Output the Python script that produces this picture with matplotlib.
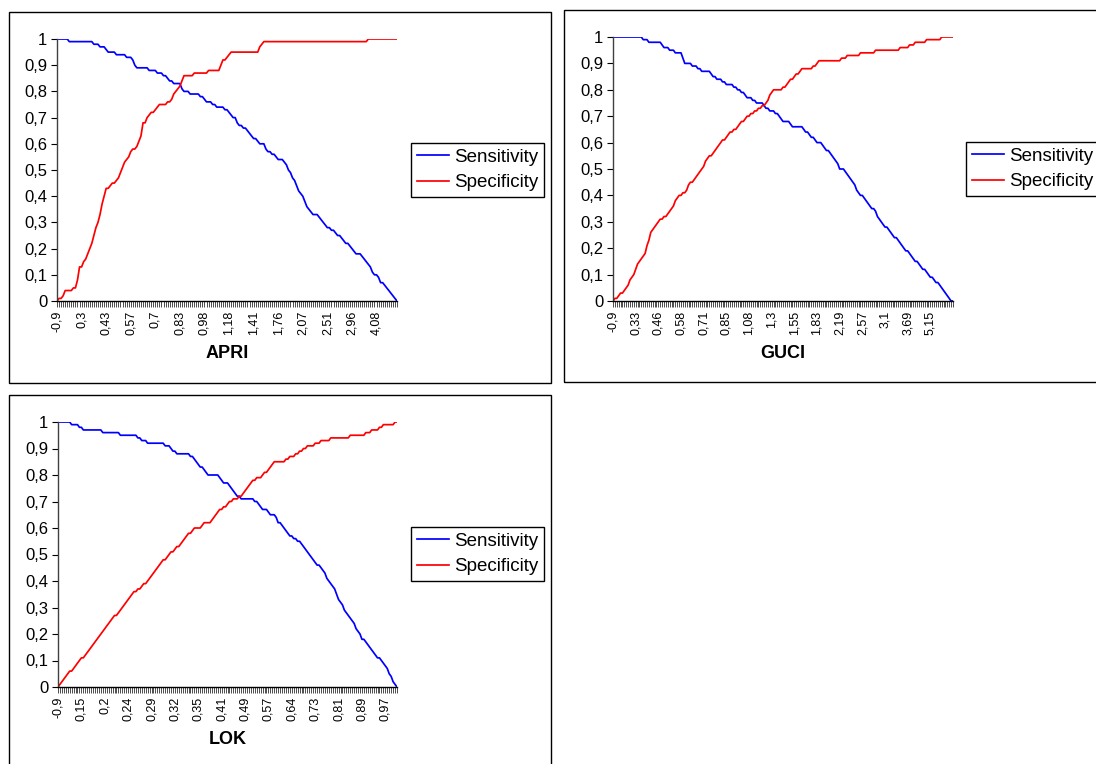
import matplotlib
matplotlib.use("Agg")
import matplotlib.pyplot as plt
from matplotlib.patches import Rectangle
from matplotlib.ticker import FixedLocator, FuncFormatter

plt.rcParams["font.family"] = ["Liberation Sans", "DejaVu Sans"]

# APRI : sensitivity / specificity per cut-off (167 cut-offs)
apri_labels = ["-0,9", "0,3", "0,43", "0,57", "0,7", "0,83", "0,98", "1,18",
               "1,41", "1,76", "2,07", "2,51", "2,96", "4,08"]
apri_sens = [
    1.00, 1.00, 1.00, 1.00, 1.00, 1.00, 0.99, 0.99, 0.99, 0.99, 0.99, 0.99,
    0.99, 0.99, 0.99, 0.99, 0.99, 0.99, 0.98, 0.98, 0.98, 0.97, 0.97, 0.97,
    0.96, 0.95, 0.95, 0.95, 0.95, 0.94, 0.94, 0.94, 0.94, 0.94, 0.93, 0.93,
    0.93, 0.92, 0.90, 0.89, 0.89, 0.89, 0.89, 0.89, 0.89, 0.88, 0.88, 0.88,
    0.88, 0.87, 0.87, 0.87, 0.86, 0.86, 0.85, 0.84, 0.84, 0.83, 0.83, 0.83,
    0.83, 0.81, 0.80, 0.80, 0.80, 0.79, 0.79, 0.79, 0.79, 0.79, 0.78, 0.78,
    0.77, 0.76, 0.76, 0.76, 0.75, 0.75, 0.74, 0.74, 0.74, 0.74, 0.73, 0.73,
    0.72, 0.71, 0.70, 0.70, 0.68, 0.67, 0.67, 0.66, 0.66, 0.65, 0.64, 0.63,
    0.62, 0.62, 0.61, 0.60, 0.60, 0.60, 0.58, 0.57, 0.57, 0.56, 0.56, 0.55,
    0.54, 0.54, 0.54, 0.53, 0.52, 0.50, 0.49, 0.47, 0.46, 0.44, 0.42, 0.41,
    0.40, 0.38, 0.36, 0.35, 0.34, 0.33, 0.33, 0.33, 0.32, 0.31, 0.30, 0.29,
    0.28, 0.28, 0.27, 0.27, 0.26, 0.25, 0.25, 0.24, 0.23, 0.22, 0.22, 0.21,
    0.20, 0.19, 0.18, 0.18, 0.18, 0.17, 0.16, 0.15, 0.14, 0.13, 0.11, 0.10,
    0.10, 0.09, 0.07, 0.07, 0.06, 0.05, 0.04, 0.03, 0.02, 0.01, 0.00]
apri_spec = [
    0.00, 0.01, 0.01, 0.02, 0.04, 0.04, 0.04, 0.04, 0.05, 0.05, 0.08, 0.13,
    0.13, 0.15, 0.16, 0.18, 0.20, 0.22, 0.25, 0.28, 0.30, 0.33, 0.37, 0.40,
    0.43, 0.43, 0.44, 0.45, 0.45, 0.46, 0.47, 0.49, 0.51, 0.53, 0.54, 0.55,
    0.57, 0.58, 0.58, 0.59, 0.61, 0.63, 0.68, 0.68, 0.70, 0.71, 0.72, 0.72,
    0.73, 0.74, 0.75, 0.75, 0.75, 0.75, 0.76, 0.76, 0.77, 0.79, 0.80, 0.81,
    0.82, 0.84, 0.86, 0.86, 0.86, 0.86, 0.86, 0.87, 0.87, 0.87, 0.87, 0.87,
    0.87, 0.87, 0.88, 0.88, 0.88, 0.88, 0.88, 0.88, 0.90, 0.92, 0.92, 0.93,
    0.94, 0.95, 0.95, 0.95, 0.95, 0.95, 0.95, 0.95, 0.95, 0.95, 0.95, 0.95,
    0.95, 0.95, 0.95, 0.97, 0.98, 0.99, 0.99, 0.99, 0.99, 0.99, 0.99, 0.99,
    0.99, 0.99, 0.99, 0.99, 0.99, 0.99, 0.99, 0.99, 0.99, 0.99, 0.99, 0.99,
    0.99, 0.99, 0.99, 0.99, 0.99, 0.99, 0.99, 0.99, 0.99, 0.99, 0.99, 0.99,
    0.99, 0.99, 0.99, 0.99, 0.99, 0.99, 0.99, 0.99, 0.99, 0.99, 0.99, 0.99,
    0.99, 0.99, 0.99, 0.99, 0.99, 0.99, 0.99, 0.99, 1.00, 1.00, 1.00, 1.00,
    1.00, 1.00, 1.00, 1.00, 1.00, 1.00, 1.00, 1.00, 1.00, 1.00, 1.00]

# GUCI (181 cut-offs)
guci_labels = ["-0,9", "0,33", "0,46", "0,58", "0,71", "0,85", "1,08", "1,3",
               "1,55", "1,83", "2,19", "2,57", "3,1", "3,69", "5,15"]
guci_sens = [
    1.00, 1.00, 1.00, 1.00, 1.00, 1.00, 1.00, 1.00, 1.00, 1.00, 1.00, 1.00,
    1.00, 1.00, 1.00, 1.00, 0.99, 0.99, 0.99, 0.98, 0.98, 0.98, 0.98, 0.98,
    0.98, 0.98, 0.97, 0.96, 0.96, 0.96, 0.95, 0.95, 0.95, 0.94, 0.94, 0.94,
    0.94, 0.92, 0.90, 0.90, 0.90, 0.90, 0.89, 0.89, 0.89, 0.88, 0.88, 0.87,
    0.87, 0.87, 0.87, 0.87, 0.86, 0.85, 0.85, 0.84, 0.84, 0.84, 0.83, 0.83,
    0.82, 0.82, 0.82, 0.82, 0.81, 0.81, 0.80, 0.80, 0.79, 0.79, 0.78, 0.77,
    0.77, 0.77, 0.76, 0.76, 0.75, 0.75, 0.75, 0.75, 0.74, 0.73, 0.73, 0.72,
    0.72, 0.72, 0.71, 0.71, 0.70, 0.69, 0.68, 0.68, 0.68, 0.68, 0.67, 0.66,
    0.66, 0.66, 0.66, 0.66, 0.66, 0.65, 0.64, 0.64, 0.63, 0.62, 0.62, 0.61,
    0.60, 0.60, 0.60, 0.59, 0.58, 0.57, 0.57, 0.56, 0.55, 0.54, 0.53, 0.52,
    0.50, 0.50, 0.50, 0.49, 0.48, 0.47, 0.46, 0.45, 0.44, 0.42, 0.41, 0.40,
    0.40, 0.39, 0.38, 0.37, 0.36, 0.35, 0.35, 0.34, 0.32, 0.31, 0.30, 0.29,
    0.28, 0.28, 0.27, 0.26, 0.25, 0.24, 0.24, 0.23, 0.22, 0.21, 0.20, 0.19,
    0.19, 0.18, 0.17, 0.16, 0.15, 0.15, 0.14, 0.13, 0.12, 0.12, 0.11, 0.10,
    0.09, 0.09, 0.08, 0.07, 0.07, 0.06, 0.05, 0.04, 0.03, 0.02, 0.01, 0.00,
    0.00]
guci_spec = [
    0.00, 0.01, 0.01, 0.02, 0.03, 0.03, 0.04, 0.05, 0.06, 0.08, 0.09, 0.10,
    0.12, 0.14, 0.15, 0.16, 0.17, 0.18, 0.21, 0.23, 0.26, 0.27, 0.28, 0.29,
    0.30, 0.31, 0.31, 0.32, 0.32, 0.33, 0.34, 0.35, 0.36, 0.38, 0.39, 0.40,
    0.40, 0.41, 0.41, 0.42, 0.44, 0.45, 0.45, 0.46, 0.47, 0.48, 0.49, 0.50,
    0.51, 0.53, 0.54, 0.55, 0.55, 0.56, 0.57, 0.58, 0.59, 0.60, 0.61, 0.61,
    0.62, 0.63, 0.64, 0.64, 0.65, 0.65, 0.66, 0.67, 0.68, 0.68, 0.69, 0.70,
    0.70, 0.71, 0.71, 0.72, 0.72, 0.73, 0.73, 0.74, 0.74, 0.75, 0.76, 0.78,
    0.79, 0.80, 0.80, 0.80, 0.80, 0.80, 0.81, 0.81, 0.82, 0.83, 0.84, 0.84,
    0.85, 0.86, 0.86, 0.87, 0.88, 0.88, 0.88, 0.88, 0.88, 0.88, 0.89, 0.89,
    0.90, 0.91, 0.91, 0.91, 0.91, 0.91, 0.91, 0.91, 0.91, 0.91, 0.91, 0.91,
    0.91, 0.92, 0.92, 0.92, 0.93, 0.93, 0.93, 0.93, 0.93, 0.93, 0.93, 0.94,
    0.94, 0.94, 0.94, 0.94, 0.94, 0.94, 0.94, 0.95, 0.95, 0.95, 0.95, 0.95,
    0.95, 0.95, 0.95, 0.95, 0.95, 0.95, 0.95, 0.95, 0.96, 0.96, 0.96, 0.96,
    0.96, 0.97, 0.97, 0.97, 0.98, 0.98, 0.98, 0.98, 0.98, 0.98, 0.99, 0.99,
    0.99, 0.99, 0.99, 0.99, 0.99, 0.99, 1.00, 1.00, 1.00, 1.00, 1.00, 1.00,
    1.00]

# LOK (175 cut-offs)
lok_labels = ["-0,9", "0,15", "0,2", "0,24", "0,29", "0,32", "0,35", "0,41",
              "0,49", "0,57", "0,64", "0,73", "0,81", "0,89", "0,97"]
lok_sens = [
    1.00, 1.00, 1.00, 1.00, 1.00, 1.00, 1.00, 0.99, 0.99, 0.99, 0.99, 0.98,
    0.98, 0.97, 0.97, 0.97, 0.97, 0.97, 0.97, 0.97, 0.97, 0.97, 0.97, 0.96,
    0.96, 0.96, 0.96, 0.96, 0.96, 0.96, 0.96, 0.96, 0.95, 0.95, 0.95, 0.95,
    0.95, 0.95, 0.95, 0.95, 0.95, 0.94, 0.94, 0.93, 0.93, 0.93, 0.92, 0.92,
    0.92, 0.92, 0.92, 0.92, 0.92, 0.92, 0.92, 0.91, 0.91, 0.91, 0.90, 0.89,
    0.89, 0.88, 0.88, 0.88, 0.88, 0.88, 0.88, 0.88, 0.87, 0.87, 0.86, 0.85,
    0.84, 0.83, 0.83, 0.82, 0.81, 0.80, 0.80, 0.80, 0.80, 0.80, 0.80, 0.79,
    0.78, 0.77, 0.77, 0.77, 0.76, 0.75, 0.74, 0.73, 0.72, 0.72, 0.71, 0.71,
    0.71, 0.71, 0.71, 0.71, 0.71, 0.70, 0.70, 0.69, 0.68, 0.67, 0.67, 0.67,
    0.66, 0.65, 0.65, 0.65, 0.64, 0.62, 0.62, 0.61, 0.60, 0.59, 0.58, 0.57,
    0.57, 0.56, 0.56, 0.55, 0.55, 0.54, 0.53, 0.52, 0.51, 0.50, 0.49, 0.48,
    0.47, 0.46, 0.46, 0.45, 0.44, 0.43, 0.41, 0.40, 0.39, 0.38, 0.37, 0.35,
    0.33, 0.32, 0.31, 0.29, 0.28, 0.27, 0.26, 0.25, 0.24, 0.22, 0.21, 0.20,
    0.18, 0.18, 0.17, 0.16, 0.15, 0.14, 0.13, 0.12, 0.11, 0.11, 0.10, 0.09,
    0.08, 0.07, 0.05, 0.04, 0.02, 0.01, 0.00]
lok_spec = [
    0.00, 0.01, 0.02, 0.03, 0.04, 0.05, 0.06, 0.06, 0.07, 0.08, 0.09, 0.10,
    0.11, 0.11, 0.12, 0.13, 0.14, 0.15, 0.16, 0.17, 0.18, 0.19, 0.20, 0.21,
    0.22, 0.23, 0.24, 0.25, 0.26, 0.27, 0.27, 0.28, 0.29, 0.30, 0.31, 0.32,
    0.33, 0.34, 0.35, 0.36, 0.36, 0.37, 0.37, 0.38, 0.39, 0.39, 0.40, 0.41,
    0.42, 0.43, 0.44, 0.45, 0.46, 0.47, 0.48, 0.48, 0.49, 0.50, 0.51, 0.51,
    0.52, 0.53, 0.53, 0.54, 0.55, 0.56, 0.57, 0.58, 0.58, 0.59, 0.60, 0.60,
    0.60, 0.60, 0.61, 0.62, 0.62, 0.62, 0.62, 0.63, 0.64, 0.65, 0.66, 0.67,
    0.67, 0.68, 0.68, 0.69, 0.70, 0.70, 0.71, 0.71, 0.71, 0.72, 0.72, 0.73,
    0.74, 0.75, 0.76, 0.77, 0.78, 0.78, 0.79, 0.79, 0.79, 0.80, 0.81, 0.81,
    0.82, 0.83, 0.84, 0.85, 0.85, 0.85, 0.85, 0.85, 0.85, 0.86, 0.86, 0.87,
    0.87, 0.87, 0.88, 0.88, 0.89, 0.89, 0.90, 0.90, 0.91, 0.91, 0.91, 0.91,
    0.92, 0.92, 0.92, 0.93, 0.93, 0.93, 0.93, 0.93, 0.94, 0.94, 0.94, 0.94,
    0.94, 0.94, 0.94, 0.94, 0.94, 0.94, 0.95, 0.95, 0.95, 0.95, 0.95, 0.95,
    0.95, 0.95, 0.96, 0.96, 0.96, 0.97, 0.97, 0.97, 0.97, 0.98, 0.98, 0.99,
    0.99, 0.99, 0.99, 0.99, 0.99, 1.00, 1.00]

LABEL_STEP = 12

fig = plt.figure(figsize=(10.96, 7.64), dpi=100)
W, H = 1096.0, 764.0

# chart frames (pixels: x0, y0 top, x1, y1 bottom)
frames = [(9, 12, 551, 383), (564, 10, 1100, 382), (9, 395, 551, 770)]
for x0, y0, x1, y1 in frames:
    fig.patches.append(Rectangle((x0 / W, 1 - y1 / H), (x1 - x0) / W, (y1 - y0) / H,
                                 transform=fig.transFigure, fill=False,
                                 edgecolor="black", linewidth=1.0))

charts = [
    ("APRI", apri_labels, apri_sens, apri_spec, (57, 39, 397, 301), (411, 143)),
    ("GUCI", guci_labels, guci_sens, guci_spec, (613, 37, 953, 301), (966, 142)),
    ("LOK", lok_labels, lok_sens, lok_spec, (58, 422, 397, 687), (411, 527)),
]


def ylab(v, pos):
    if v == 0:
        return "0"
    if abs(v - 1) < 1e-9:
        return "1"
    return ("%.1f" % v).replace(".", ",")


for name, labels, sens, spec, (px0, py0, px1, py1), (lx, ly) in charts:
    ax = fig.add_axes([px0 / W, 1 - py1 / H, (px1 - px0) / W, (py1 - py0) / H])
    n = len(sens)
    idx = list(range(n))
    ax.plot(idx, sens, color="#0000FF", lw=1.25, label="Sensitivity")
    ax.plot(idx, spec, color="#FF0000", lw=1.25, label="Specificity")
    ax.set_xlim(0, n - 1)
    ax.set_ylim(0, 1)

    for s in ("top", "right"):
        ax.spines[s].set_visible(False)
    ax.spines["left"].set_color("#404040")
    ax.spines["left"].set_linewidth(1.0)
    ax.spines["bottom"].set_color("black")
    ax.spines["bottom"].set_linewidth(1.0)

    major = list(range(0, n, LABEL_STEP))[:len(labels)]
    ax.xaxis.set_major_locator(FixedLocator(major))
    ax.xaxis.set_minor_locator(FixedLocator(idx))
    ax.set_xticklabels(labels, rotation=90, fontsize=9)
    ax.tick_params(axis="x", which="both", direction="out", length=4, width=0.6,
                   color="#303030", pad=3)
    ax.set_yticks([i / 10 for i in range(11)])
    ax.yaxis.set_major_formatter(FuncFormatter(ylab))
    ax.tick_params(axis="y", direction="out", length=4, width=0.8, labelsize=12, pad=3)

    fig.text((px0 + px1) / 2 / W, 1 - (py1 + 52) / H, name, ha="center", va="center",
             fontsize=13, fontweight="bold")

    fig.legend(handles=ax.get_lines(), loc="upper left",
               bbox_to_anchor=(lx / W, 1 - ly / H), fontsize=13.5, frameon=True,
               fancybox=False, edgecolor="black", framealpha=1,
               handlelength=1.7, handletextpad=0.3, borderpad=0.3,
               labelspacing=0.45, borderaxespad=0)

fig.savefig("out.png", dpi=100)
